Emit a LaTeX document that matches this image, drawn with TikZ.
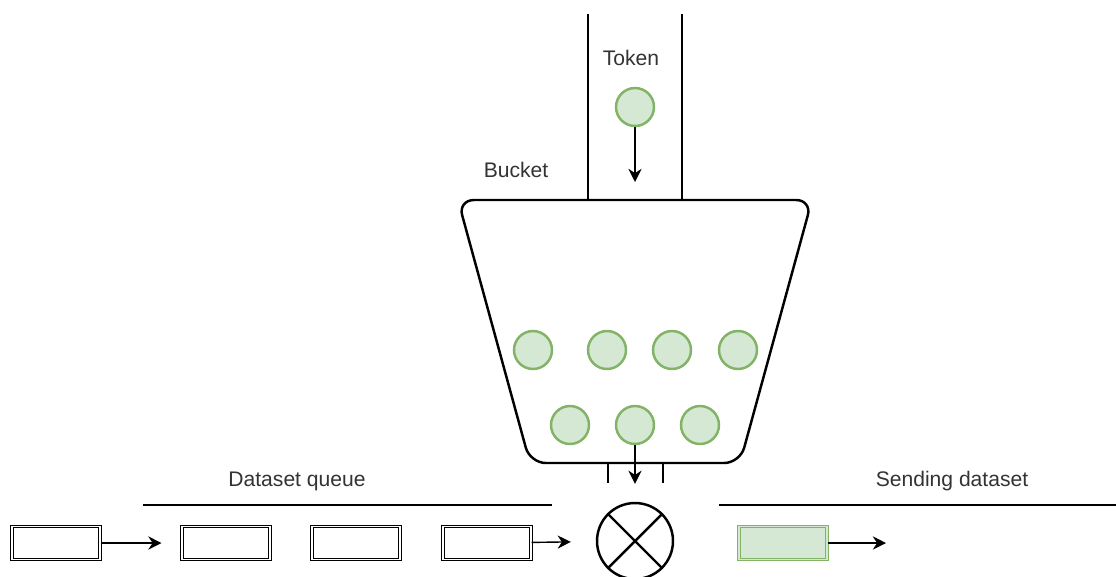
\documentclass[tikz,border=0pt]{standalone}
\usepackage{fontspec}
\setmainfont{Liberation Sans}
\usetikzlibrary{arrows.meta, positioning}
\definecolor{tokenfill}{HTML}{D5E8D4}
\definecolor{tokenline}{HTML}{82B366}

\begin{document}
\begin{tikzpicture}[
      x=0.02cm, y=-0.02cm, line width=1.1pt, >={Stealth[length=7.5pt,width=7.5pt]},
      every node/.style={font=\fontsize{12}{14}\selectfont, text=black!80},
      token/.style={circle, draw=tokenline, fill=tokenfill, line width=1.4pt,
        minimum size=0.76cm, inner sep=0pt},
      packet/.style={draw, double, line width=0.6pt, double distance=0.9pt,
        minimum width=1.76cm, minimum height=0.66cm, inner sep=0pt},
      sent/.style={packet, draw=tokenline, double=tokenfill, fill=tokenfill},
      flow/.style={->, line width=0.8pt}
      ]
      \useasboundingbox (0,0) rectangle (1116,576);

      % token tube and bucket
      \draw (588,14) -- (588,200) (682,14) -- (682,200);
      \draw[line width=1.4pt, rounded corners=9pt]
        (458,200) -- (812,200) -- (740,463) -- (530,463) -- cycle;
      \draw (608,463) -- (608,483) (663,463) -- (663,483);
      \node (tokenlbl) at (631,58) {Token};
      \node (bucketlbl) at (516,170) {Bucket};
      \node[token] (tok) at (635,107) {};
      \coordinate (tokin) at (635,182);
      \draw[flow] (tok) -- (tokin);
      \foreach \n/\x/\y in {1/533/350, 2/607/350, 3/672/350, 4/738/350,
                            5/570/425, 6/635/425, 7/700/425}
        \node[token] (b\n) at (\x,\y) {};

      % gate
      \node[circle, draw, line width=1.4pt, minimum size=1.52cm, inner sep=0pt] (gate) at (635,541) {};
      \draw[line width=1.4pt] (gate.45) -- (gate.225) (gate.135) -- (gate.315);
      \draw[flow, shorten >=0.36cm] (b6) -- (gate);

      % queue
      \draw (143,505) -- (552,505) (719,505) -- (1116,505);
      \node (queue) at (297,481) {Dataset queue};
      \node (sending) at (952,481) {Sending dataset};
      \node[packet] (p1) at (56,543) {};
      \node[packet] (p2) at (226,543) {};
      \node[packet] (p3) at (356,543) {};
      \node[packet] (p4) at (487,543) {};
      \node[sent] (s1) at (783,543) {};
      \coordinate (out) at (886,543);
      \draw[flow, shorten >=0.4cm] (p1) -- (p2);
      \draw[flow, shorten >=0.5cm] (p4) -- (gate);
      \draw[flow] (s1) -- (out);
\end{tikzpicture}
\end{document}
